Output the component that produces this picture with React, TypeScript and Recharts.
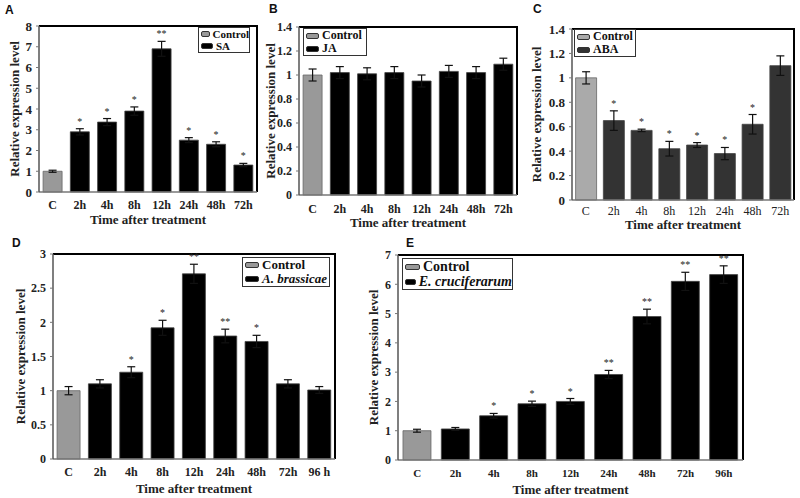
import React from 'react';
import { BarChart, Bar, XAxis, YAxis, Cell, ErrorBar, LabelList, Label } from 'recharts';

// categories
const hoursShort = ['C', '2h', '4h', '8h', '12h', '24h', '48h', '72h'];
const hoursLongD = ['C', '2h', '4h', '8h', '12h', '24h', '48h', '72h', '96 h'];
const hoursLongE = ['C', '2h', '4h', '8h', '12h', '24h', '48h', '72h', '96h'];

// A: SA
const saValues = [1.0, 2.9, 3.37, 3.9, 6.9, 2.5, 2.3, 1.3];
const saErrors = [0.05, 0.15, 0.17, 0.2, 0.36, 0.12, 0.12, 0.08];
const saStars = ['', '*', '*', '*', '**', '*', '*', '*'];

// B: JA
const jaValues = [1.0, 1.02, 1.01, 1.02, 0.95, 1.03, 1.02, 1.09];
const jaErrors = [0.05, 0.05, 0.05, 0.05, 0.05, 0.05, 0.05, 0.05];
const jaStars = ['', '', '', '', '', '', '', ''];

// C: ABA
const abaValues = [1.0, 0.65, 0.57, 0.42, 0.45, 0.38, 0.62, 1.1];
const abaErrors = [0.05, 0.08, 0.01, 0.06, 0.02, 0.05, 0.08, 0.08];
const abaStars = ['', '*', '*', '*', '*', '*', '*', ''];

// D: A. brassicae
const abValues = [1.0, 1.1, 1.27, 1.92, 2.71, 1.8, 1.72, 1.1, 1.01];
const abErrors = [0.06, 0.06, 0.08, 0.11, 0.14, 0.1, 0.09, 0.06, 0.05];
const abStars = ['', '', '*', '*', '**', '**', '*', '', ''];

// E: E. cruciferarum
const ecValues = [1.0, 1.06, 1.51, 1.92, 2.0, 2.92, 4.9, 6.1, 6.33];
const ecErrors = [0.05, 0.05, 0.08, 0.09, 0.1, 0.14, 0.25, 0.31, 0.3];
const ecStars = ['', '', '*', '*', '*', '**', '**', '**', '**'];

// tick labels
const ticksA = [0, 1, 2, 3, 4, 5, 6, 7, 8];
const ticksBC = [0, 0.2, 0.4, 0.6, 0.8, 1, 1.2, 1.4];
const ticksD = [0, 0.5, 1, 1.5, 2, 2.5, 3];
const ticksE = [0, 1, 2, 3, 4, 5, 6, 7];

const serif = '"Liberation Serif", "Times New Roman", serif';
const sans = '"Liberation Sans", Arial, sans-serif';

interface PanelProps {
  letter: string;
  letterPos: [number, number];
  cats: string[];
  values: number[];
  errors: number[];
  stars: string[];
  ticks: number[];
  treatment: string;
  italic?: boolean;
  ctrlColor: string;
  barColor: string;
  plot: { left: number; right: number; top: number; bottom: number };
  yW: number;
  xH: number;
  yLabelX: number;
  tickDy: number;
  titleDy: number;
  xTickSize: number;
  xTickWeight: string;
  yTickSize: number;
  gap: string;
  legend: { left: number; top: number; width: number; font: number };
}

function Panel(p: PanelProps) {
  const data = p.cats.map((c, i) => ({ cat: c, value: p.values[i], err: p.errors[i], star: p.stars[i] }));
  const yMax = p.ticks[p.ticks.length - 1];
  const mTop = 8;
  const mRight = 6;
  const left = p.plot.left - p.yW;
  const top = p.plot.top - mTop;
  const width = p.plot.right - left + mRight;
  const height = p.plot.bottom - p.plot.top + mTop + p.xH;

  const starLabel = (props: any) => {
    const { index, value } = props;
    if (!value) return null;
    const vb = props.viewBox ?? props;
    const x = vb.x + vb.width / 2;
    const perUnit = vb.height / p.values[index];
    const y = vb.y - p.errors[index] * perUnit - 4;
    return (
      <text x={x} y={y} textAnchor="middle" fontSize={10} fontFamily={serif} fill="#222">
        {value}
      </text>
    );
  };

  const yLabel = (props: any) => {
    const vb = props.viewBox;
    const x = vb.x + p.yLabelX;
    const y = vb.y + vb.height / 2;
    return (
      <text
        x={x}
        y={y}
        transform={`rotate(-90 ${x} ${y})`}
        textAnchor="middle"
        dominantBaseline="central"
        fontSize={13}
        fontWeight="bold"
        fontFamily={serif}
        fill="#222"
      >
        Relative expression level
      </text>
    );
  };

  const xTitle = (props: any) => {
    const vb = props.viewBox;
    return (
      <text
        x={vb.x + vb.width / 2}
        y={vb.y + p.titleDy}
        textAnchor="middle"
        dominantBaseline="central"
        fontSize={13}
        fontWeight="bold"
        fontFamily={serif}
        fill="#222"
      >
        Time after treatment
      </text>
    );
  };

  const xTick = (t: any) => (
    <text
      x={t.x}
      y={t.y + p.tickDy}
      textAnchor="middle"
      dominantBaseline="central"
      fontSize={p.xTickSize}
      fontWeight={p.xTickWeight}
      fontFamily={serif}
      fill="#222"
    >
      {t.payload.value}
    </text>
  );

  const lg = p.legend;
  return (
    <>
      <div
        style={{
          position: 'absolute',
          left: p.letterPos[0],
          top: p.letterPos[1],
          fontFamily: sans,
          fontWeight: 'bold',
          fontSize: 12,
          lineHeight: '12px',
          color: '#111',
        }}
      >
        {p.letter}
      </div>
      {/* plot frame: top and right edges, drawn beneath the chart */}
      <div
        style={{
          position: 'absolute',
          left: p.plot.left,
          top: p.plot.top - 1,
          width: p.plot.right - p.plot.left + 1,
          height: p.plot.bottom - p.plot.top + 1,
          boxSizing: 'border-box',
          borderTop: '2px solid #000',
          borderRight: '2px solid #000',
        }}
      />
      <div style={{ position: 'absolute', left, top }}>
        <BarChart
          width={width}
          height={height}
          data={data}
          margin={{ top: mTop, right: mRight, left: 0, bottom: 0 }}
          barCategoryGap={p.gap}
        >
          <XAxis
            dataKey="cat"
            height={p.xH}
            interval={0}
            tickSize={0}
            tickMargin={0}
            tick={xTick}
            axisLine={{ stroke: '#777', strokeWidth: 1.5 }}
          >
            <Label content={xTitle} />
          </XAxis>
          <YAxis
            width={p.yW}
            domain={[0, yMax]}
            ticks={p.ticks}
            interval={0}
            tickSize={3}
            tickMargin={4}
            tickFormatter={(v: number) => String(v)}
            tick={{ fontSize: p.yTickSize, fontWeight: 'bold', fontFamily: serif, fill: '#222' }}
            axisLine={{ stroke: '#555', strokeWidth: 1.5 }}
            tickLine={{ stroke: '#777' }}
          >
            <Label content={yLabel} />
          </YAxis>
          <Bar dataKey="value" isAnimationActive={false}>
            {data.map((d, i) => (
              <Cell
                key={d.cat}
                fill={i === 0 ? p.ctrlColor : p.barColor}
                stroke={i === 0 ? '#666' : '#444'}
                strokeWidth={0.8}
              />
            ))}
            <ErrorBar dataKey="err" width={4} stroke="#111" strokeWidth={1.2} direction="y" />
            <LabelList dataKey="star" content={starLabel} />
          </Bar>
        </BarChart>
      </div>
      <div
        style={{
          position: 'absolute',
          left: lg.left,
          top: lg.top,
          width: lg.width,
          boxSizing: 'border-box',
          border: '1px solid #333',
          background: '#fff',
          fontFamily: serif,
          fontWeight: 'bold',
          fontSize: lg.font,
          lineHeight: `${Math.round(lg.font) + 1}px`,
          color: '#111',
          padding: '0 0 0 2px',
        }}
      >
        {[
          { name: 'Control', color: p.ctrlColor, it: false },
          { name: p.treatment, color: p.barColor, it: !!p.italic },
        ].map((item) => (
          <div key={item.name} style={{ display: 'flex', alignItems: 'center', whiteSpace: 'nowrap' }}>
            <span
              style={{
                display: 'inline-block',
                width: Math.round(lg.font * 0.9),
                height: 4,
                background: item.color,
                border: '1px solid #333',
                borderRadius: 2,
                marginRight: 3,
              }}
            />
            <span style={{ fontStyle: item.it ? 'italic' : 'normal' }}>{item.name}</span>
          </div>
        ))}
      </div>
    </>
  );
}

export default function App() {
  return (
    <div style={{ position: 'absolute', left: 0, top: 0, width: 800, height: 498, background: '#fff', overflow: 'hidden' }}>
      <Panel
        letter="A"
        letterPos={[5, 4]}
        cats={hoursShort}
        values={saValues}
        errors={saErrors}
        stars={saStars}
        ticks={ticksA}
        treatment="SA"
        ctrlColor="#999"
        barColor="#000"
        plot={{ left: 39, right: 257, top: 26, bottom: 192 }}
        yW={39}
        xH={36}
        yLabelX={14}
        tickDy={13}
        titleDy={27}
        xTickSize={12}
        xTickWeight="bold"
        yTickSize={13}
        gap="15%"
        legend={{ left: 198, top: 27, width: 52, font: 11 }}
      />
      <Panel
        letter="B"
        letterPos={[269, 3]}
        cats={hoursShort}
        values={jaValues}
        errors={jaErrors}
        stars={jaStars}
        ticks={ticksBC}
        treatment="JA"
        ctrlColor="#999"
        barColor="#000"
        plot={{ left: 299, right: 517, top: 27, bottom: 195 }}
        yW={40}
        xH={36}
        yLabelX={11}
        tickDy={14}
        titleDy={27}
        xTickSize={12}
        xTickWeight="bold"
        yTickSize={12}
        gap="15%"
        legend={{ left: 303, top: 28, width: 64, font: 12 }}
      />
      <Panel
        letter="C"
        letterPos={[533, 3]}
        cats={hoursShort}
        values={abaValues}
        errors={abaErrors}
        stars={abaStars}
        ticks={ticksBC}
        treatment="ABA"
        ctrlColor="#aaa"
        barColor="#333"
        plot={{ left: 572, right: 794, top: 29, bottom: 200 }}
        yW={42}
        xH={34}
        yLabelX={6}
        tickDy={11}
        titleDy={24}
        xTickSize={12}
        xTickWeight="normal"
        yTickSize={13}
        gap="13%"
        legend={{ left: 574, top: 29, width: 62, font: 12 }}
      />
      <Panel
        letter="D"
        letterPos={[12, 237]}
        cats={hoursLongD}
        values={abValues}
        errors={abErrors}
        stars={abStars}
        ticks={ticksD}
        treatment="A. brassicae"
        italic
        ctrlColor="#999"
        barColor="#000"
        plot={{ left: 53, right: 335, top: 254, bottom: 459 }}
        yW={45}
        xH={38}
        yLabelX={12}
        tickDy={13}
        titleDy={29}
        xTickSize={12}
        xTickWeight="bold"
        yTickSize={12}
        gap="13%"
        legend={{ left: 242, top: 257, width: 88, font: 13 }}
      />
      <Panel
        letter="E"
        letterPos={[406, 237]}
        cats={hoursLongE}
        values={ecValues}
        errors={ecErrors}
        stars={ecStars}
        ticks={ticksE}
        treatment="E. cruciferarum"
        italic
        ctrlColor="#999"
        barColor="#000"
        plot={{ left: 398, right: 743, top: 255, bottom: 460 }}
        yW={40}
        xH={38}
        yLabelX={15}
        tickDy={13}
        titleDy={29}
        xTickSize={11}
        xTickWeight="bold"
        yTickSize={12}
        gap="13%"
        legend={{ left: 402, top: 258, width: 111, font: 14 }}
      />
    </div>
  );
}
